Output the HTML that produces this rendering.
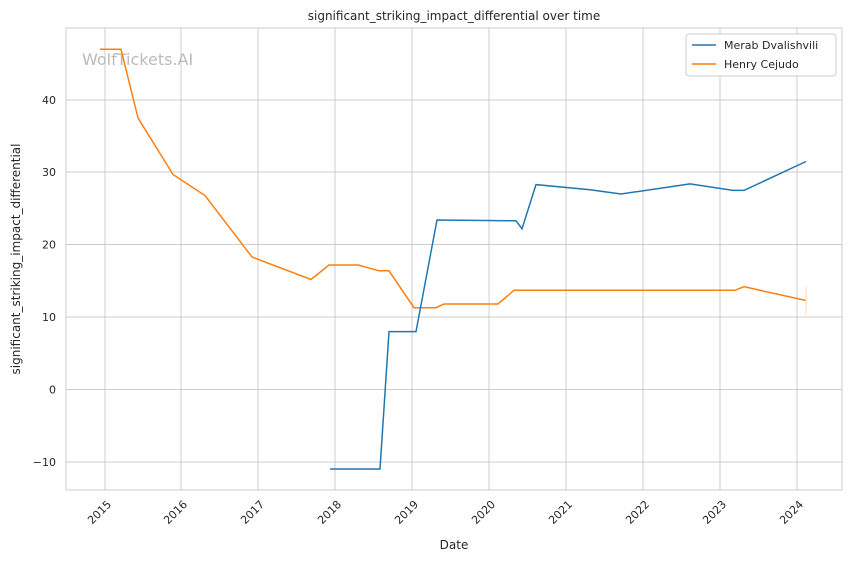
<!DOCTYPE html>
<html><head><meta charset="utf-8"><style>
body{margin:0;background:#fff;}
svg{display:block;font-family:"DejaVu Sans","Liberation Sans",sans-serif;}
</style></head><body>
<svg width="850" height="561" viewBox="0 0 850 561">
<rect width="850" height="561" fill="#fff"/>
<g stroke="#cccccc" stroke-width="1">
<line x1="105" y1="28" x2="105" y2="490"/><line x1="181" y1="28" x2="181" y2="490"/>
<line x1="258" y1="28" x2="258" y2="490"/><line x1="335" y1="28" x2="335" y2="490"/>
<line x1="412" y1="28" x2="412" y2="490"/><line x1="489" y1="28" x2="489" y2="490"/>
<line x1="566" y1="28" x2="566" y2="490"/><line x1="643" y1="28" x2="643" y2="490"/>
<line x1="720" y1="28" x2="720" y2="490"/><line x1="797" y1="28" x2="797" y2="490"/>
<line x1="66" y1="100" x2="842" y2="100"/><line x1="66" y1="172" x2="842" y2="172"/>
<line x1="66" y1="244.5" x2="842" y2="244.5"/><line x1="66" y1="317" x2="842" y2="317"/>
<line x1="66" y1="389.5" x2="842" y2="389.5"/><line x1="66" y1="462" x2="842" y2="462"/>
</g>
<rect x="66" y="28" width="776" height="462" fill="none" stroke="#cccccc" stroke-width="1"/>
<text x="82" y="65" font-size="16" fill="#bbbbbb">WolfTickets.AI</text>
<polyline fill="none" stroke="#ff7f0e" stroke-width="1.5" points="100,49.2 121,49.2 138,118 173,174.5 205,195.5 252,257 311,279.5 329,265 358,265 379,270.8 389,270.8 414,307.7 436,307.7 444,304 498,304 514,290.3 735,290.3 744,286.7 806,300.5"/>
<line x1="806" y1="287" x2="806" y2="315" stroke="#ffd8b0" stroke-width="1"/>
<polyline fill="none" stroke="#1f77b4" stroke-width="1.5" points="330,469 380,469 389,331.6 416,331.6 437,220 516,220.8 522,228.8 536,184.6 590,189.7 621,194 690,183.9 733,190.4 744,190.4 806,161.5"/>
<g font-size="11" fill="#262626" text-anchor="end">
<text x="56" y="104">40</text><text x="56" y="176">30</text><text x="56" y="248.5">20</text>
<text x="56" y="321">10</text><text x="56" y="393.5">0</text><text x="56" y="466">−10</text>
</g>
<g font-size="11" fill="#262626" text-anchor="end">
<text transform="translate(112,505) rotate(-45)">2015</text>
<text transform="translate(188,505) rotate(-45)">2016</text>
<text transform="translate(265,505) rotate(-45)">2017</text>
<text transform="translate(342,505) rotate(-45)">2018</text>
<text transform="translate(419,505) rotate(-45)">2019</text>
<text transform="translate(496,505) rotate(-45)">2020</text>
<text transform="translate(573,505) rotate(-45)">2021</text>
<text transform="translate(650,505) rotate(-45)">2022</text>
<text transform="translate(727,505) rotate(-45)">2023</text>
<text transform="translate(804,505) rotate(-45)">2024</text>
</g>
<text x="454" y="549" font-size="12" fill="#262626" text-anchor="middle">Date</text>
<text transform="translate(20,259) rotate(-90)" font-size="12" fill="#262626" text-anchor="middle">significant_striking_impact_differential</text>
<text x="454" y="20" font-size="12" fill="#262626" text-anchor="middle">significant_striking_impact_differential over time</text>
<rect x="686" y="34" width="150" height="42" fill="#fff" stroke="#cccccc" rx="3"/>
<line x1="692" y1="45" x2="716" y2="45" stroke="#1f77b4" stroke-width="1.5"/>
<text x="724" y="49" font-size="11" fill="#262626">Merab Dvalishvili</text>
<line x1="692" y1="64" x2="716" y2="64" stroke="#ff7f0e" stroke-width="1.5"/>
<text x="724" y="68" font-size="11" fill="#262626">Henry Cejudo</text>
</svg>
</body></html>
